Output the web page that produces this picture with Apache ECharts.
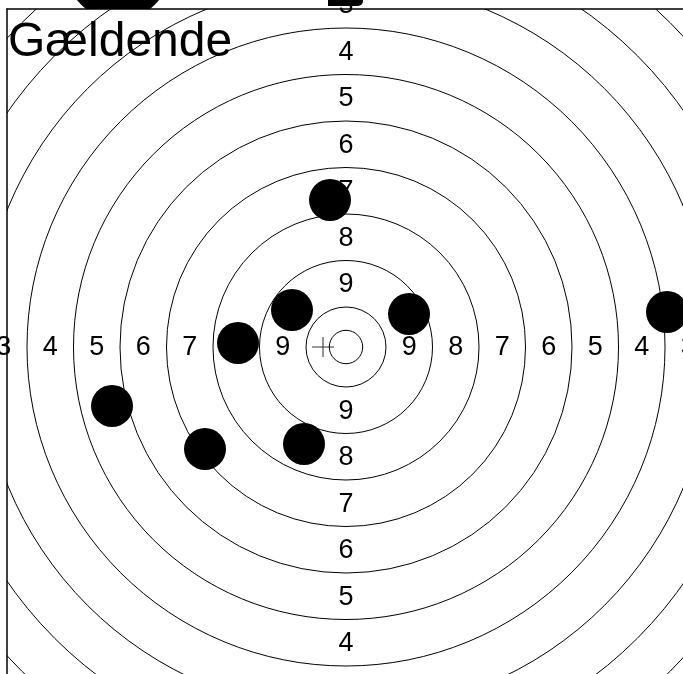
<!DOCTYPE html>
<html>
<head>
<meta charset="utf-8">
<script src="https://cdn.jsdelivr.net/npm/echarts@6/dist/echarts.min.js"></script>
<style>html,body{margin:0;padding:0;background:#fff;}#c{width:683px;height:674px;}</style>
</head>
<body>
<div id="c"></div>
<script>
// Target geometry (units: target units, centre = 0,0)
var RING_RADII = [16.7, 40, 86.5, 133, 179.5, 226, 272.5, 319, 365.5, 412, 458.5];
// Ring score labels (score k written between ring k outer edge and ring k+1 outer edge)
var LABEL_SCORES = [9, 8, 7, 6, 5, 4, 3];
// Shots
var SHOT_X = [-16, -54, 63, -108, 321, -234, -141, -42];
var SHOT_Y = [147, 37, 33, 4, 35, -59, -102, -97];
// Mean point of impact (crosshair)
var MEAN_POINT = [-23, 0];
var TITLE = 'Gældende';

function outerR(k) { return RING_RADII[11 - k]; }
var labelData = [];
LABEL_SCORES.forEach(function (k) {
  var m = (outerR(k) + outerR(k + 1)) / 2;
  labelData.push([0, m, k]);
  labelData.push([0, -m, k]);
  labelData.push([m, 0, k]);
  labelData.push([-m, 0, k]);
});
var shotData = SHOT_X.map(function (x, i) { return [x, SHOT_Y[i]]; });

var chart = echarts.init(document.getElementById('c'), null, { renderer: 'canvas' });
chart.setOption({
  animation: false,
  backgroundColor: '#fff',
  title: {
    text: TITLE, left: 8, top: 19, padding: 0, z: 5,
    textStyle: { fontFamily: 'Liberation Sans', fontSize: 48, fontWeight: 'normal', color: '#000' }
  },
  grid: { left: 7, top: 9, right: 0, bottom: 0, containLabel: false },
  xAxis: {
    type: 'value', min: -339, max: 337, position: 'top', z: 6,
    axisLine: { show: true, onZero: false, lineStyle: { color: '#000', width: 1.5 } },
    axisTick: { show: false }, axisLabel: { show: false }, splitLine: { show: false }
  },
  yAxis: {
    type: 'value', min: -327, max: 338, position: 'left', z: 6,
    axisLine: { show: true, onZero: false, lineStyle: { color: '#000', width: 1.5 } },
    axisTick: { show: false }, axisLabel: { show: false }, splitLine: { show: false }
  },
  graphic: [
    { type: 'circle', z: -2, shape: { cx: 118, cy: -32, r: 52 }, style: { fill: '#000' } },
    { type: 'rect', z: -1, shape: { x: 0, y: 9, width: 683, height: 680 }, style: { fill: '#fff' } },
    { type: 'rect', z: 20, shape: { x: 328, y: -10, width: 35, height: 16, r: [0, 0, 5, 0] }, style: { fill: '#000' } }
  ],
  series: [
    {
      type: 'custom', name: 'rings', clip: true, z: 2,
      data: RING_RADII.map(function (r) { return [r]; }),
      encode: { x: 0 },
      renderItem: function (params, api) {
        var c = api.coord([0, 0]);
        var r = api.size([api.value(0), 0])[0];
        return {
          type: 'circle', shape: { cx: c[0], cy: c[1], r: r },
          style: { fill: null, stroke: '#000', lineWidth: 1 }
        };
      }
    },
    {
      type: 'custom', name: 'labels', clip: false, z: 3, silent: true,
      data: labelData,
      encode: { x: 0, y: 1 },
      renderItem: function (params, api) {
        var p = api.coord([api.value(0), api.value(1)]);
        return {
          type: 'text', x: p[0], y: p[1] + 1,
          style: {
            text: String(api.value(2)), font: '27px "Liberation Sans"', fill: '#000',
            textAlign: 'center', textVerticalAlign: 'middle', verticalAlign: 'middle', align: 'center'
          }
        };
      }
    },
    {
      type: 'scatter', name: 'mean', z: 4, symbol: 'path://M0,10L22,10M11,0L11,20',
      symbolSize: [22, 20], data: [MEAN_POINT],
      itemStyle: { color: 'rgba(0,0,0,0)', borderColor: '#000', borderWidth: 1 }
    },
    {
      type: 'scatter', name: 'shots', z: 5, symbol: 'circle', symbolSize: 42,
      data: shotData, clip: false,
      itemStyle: { color: '#000', opacity: 1 }
    }
  ]
});
</script>
</body>
</html>
